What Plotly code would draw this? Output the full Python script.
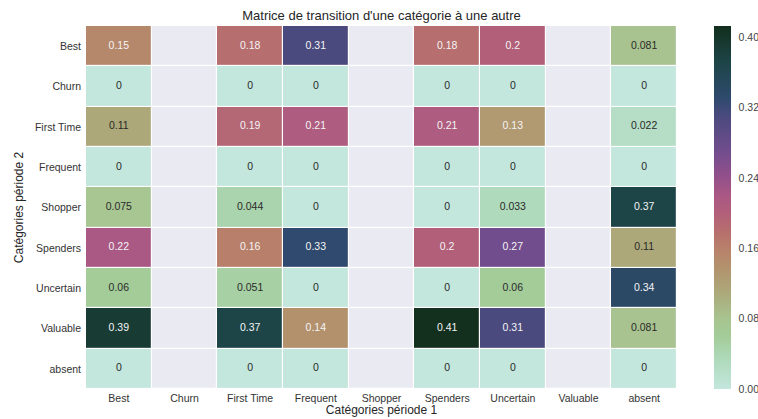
import numpy as np
import plotly.graph_objects as go

# Transition matrix: rows = category in period 2, columns = category in period 1
cols = ["Best", "Churn", "First Time", "Frequent", "Shopper",
        "Spenders", "Uncertain", "Valuable", "absent"]
rows = ["Best", "Churn", "First Time", "Frequent", "Shopper",
        "Spenders", "Uncertain", "Valuable", "absent"]
nan = np.nan
row_best = [0.15, nan, 0.18, 0.31, nan, 0.18, 0.2, nan, 0.081]
row_churn = [0, nan, 0, 0, nan, 0, 0, nan, 0]
row_first = [0.11, nan, 0.19, 0.21, nan, 0.21, 0.13, nan, 0.022]
row_frequent = [0, nan, 0, 0, nan, 0, 0, nan, 0]
row_shopper = [0.075, nan, 0.044, 0, nan, 0, 0.033, nan, 0.37]
row_spenders = [0.22, nan, 0.16, 0.33, nan, 0.2, 0.27, nan, 0.11]
row_uncertain = [0.06, nan, 0.051, 0, nan, 0, 0.06, nan, 0.34]
row_valuable = [0.39, nan, 0.37, 0.14, nan, 0.41, 0.31, nan, 0.081]
row_absent = [0, nan, 0, 0, nan, 0, 0, nan, 0]
cbar_ticks = [0.00, 0.08, 0.16, 0.24, 0.32, 0.40]

Z = np.array([row_best, row_churn, row_first, row_frequent, row_shopper,
              row_spenders, row_uncertain, row_valuable, row_absent])

ZMAX = 0.4126
FONT = "Liberation Sans, Arial, sans-serif"

colorscale = [
    [0.000, "#c3e6dd"],
    [0.080, "#afdabb"],
    [0.145, "#a3cc99"],
    [0.196, "#a8c38f"],
    [0.267, "#aca879"],
    [0.339, "#b3916d"],
    [0.388, "#b8806a"],
    [0.436, "#b66e6e"],
    [0.485, "#b25f7a"],
    [0.533, "#aa5884"],
    [0.582, "#94508a"],
    [0.654, "#724d8e"],
    [0.751, "#4a4a7e"],
    [0.800, "#2f4a6e"],
    [0.897, "#1d4548"],
    [0.994, "#13301f"],
    [1.000, "#122d1d"],
]

# plot area in pixels
L, R, T, B = 86, 677, 26, 389
W, H = 758, 419

nr, nc = Z.shape
xi = np.arange(nc)
yi = np.arange(nr)

fig = go.Figure()

# grey backdrop for every cell (empty cells stay grey)
fig.add_trace(go.Heatmap(
    z=np.ones_like(Z), x=xi, y=yi,
    colorscale=[[0, "#eaeaf2"], [1, "#eaeaf2"]],
    showscale=False, xgap=1.2, ygap=1.2, hoverinfo="skip",
))

fig.add_trace(go.Heatmap(
    z=Z, x=xi, y=yi, zmin=0, zmax=ZMAX,
    colorscale=colorscale, xgap=1.2, ygap=1.2,
    colorbar=dict(
        x=(714 - L) / (R - L), xanchor="left", xpad=0,
        y=0.5, yanchor="middle", ypad=0,
        len=1.0, lenmode="fraction", thickness=17,
        outlinewidth=0, tickvals=cbar_ticks, tickformat=".2f",
        ticks="outside", ticklen=6, tickcolor="rgba(0,0,0,0)",
        tickfont=dict(family=FONT, size=10.5, color="#444444"),
    ),
))

# cell annotations ('.2g' formatting)
tx, ty, tt, tc = [], [], [], []
for i in range(nr):
    for j in range(nc):
        v = Z[i, j]
        if np.isnan(v):
            continue
        tx.append(j)
        ty.append(i)
        tt.append(format(v, ".2g"))
        tc.append("#f4f4f4" if v >= 0.12 else "#2a2a2a")

fig.add_trace(go.Scatter(
    x=tx, y=ty, text=tt, mode="text",
    textfont=dict(family=FONT, size=10.5, color=tc),
    hoverinfo="skip", showlegend=False,
))

fig.update_layout(
    width=W, height=H,
    margin=dict(l=L, r=W - R, t=T, b=H - B, autoexpand=False),
    paper_bgcolor="white", plot_bgcolor="white",
    showlegend=False,
    font=dict(family=FONT, color="#262626"),
    title=dict(
        text="Matrice de transition d'une catégorie à une autre",
        x=(L + R) / 2 / W, xanchor="center",
        y=1 - 15 / H, yanchor="middle",
        font=dict(family=FONT, size=13, color="#262626"),
    ),
)
fig.update_xaxes(
    tickvals=list(xi), ticktext=cols, range=[-0.5, nc - 0.5],
    showgrid=False, zeroline=False, showline=False, ticks="",
    ticklabelstandoff=1,
    tickfont=dict(family=FONT, size=10.5, color="#333333"),
    title=dict(text="Catégories période 1", standoff=1,
               font=dict(family=FONT, size=12, color="#262626")),
)
fig.update_yaxes(
    tickvals=list(yi), ticktext=rows, range=[nr - 0.5, -0.5],
    showgrid=False, zeroline=False, showline=False, ticks="",
    ticklabelstandoff=4,
    tickfont=dict(family=FONT, size=10.5, color="#333333"),
    title=dict(text="Catégories période 2", standoff=8,
               font=dict(family=FONT, size=12, color="#262626")),
)

fig.write_html("out.html")
